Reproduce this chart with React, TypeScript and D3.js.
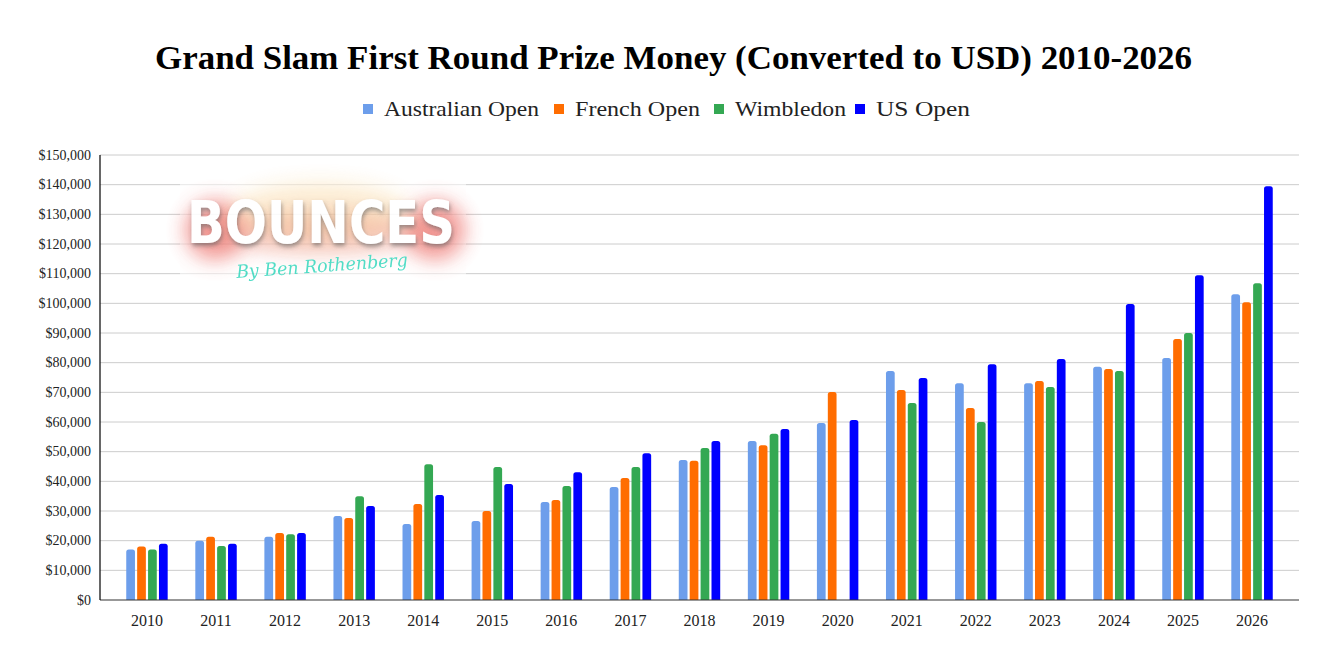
import React from "react";
import * as d3 from "d3";

const years = ["2010","2011","2012","2013","2014","2015","2016","2017","2018","2019","2020","2021","2022","2023","2024","2025","2026"];
const seriesNames = ["Australian Open", "French Open", "Wimbledon", "US Open"];
const seriesColors = ["#6d9eeb", "#ff6d01", "#34a853", "#0000ff"];
const australianOpen = [17000, 20000, 21300, 28300, 25600, 26600, 33000, 38100, 47200, 53600, 59700, 77200, 73100, 73100, 78600, 81600, 103100];
const frenchOpen = [18000, 21300, 22600, 27600, 32400, 30000, 33700, 41100, 46900, 52200, 70100, 70800, 64700, 73800, 77900, 88000, 100400];
const wimbledon = [17000, 18200, 22200, 35000, 45800, 44800, 38400, 44800, 51200, 56000, null, 66400, 60000, 71800, 77200, 90000, 106800];
const usOpen = [19000, 19000, 22600, 31700, 35400, 39100, 43100, 49500, 53600, 57600, 60700, 74800, 79500, 81200, 99800, 109500, 139500];
const yTicks = [0, 10000, 20000, 30000, 40000, 50000, 60000, 70000, 80000, 90000, 100000, 110000, 120000, 130000, 140000, 150000];

const W = 1333, H = 664;
const L = 100, R = 1299, T = 155, B = 600;

function topRounded(x: number, y: number, w: number, h: number, r: number) {
  const rr = Math.min(r, h, w / 2);
  return `M${x},${y + h}V${y + rr}Q${x},${y} ${x + rr},${y}H${x + w - rr}Q${x + w},${y} ${x + w},${y + rr}V${y + h}Z`;
}

export default function App() {
  const series = [australianOpen, frenchOpen, wimbledon, usOpen];
  const x = d3.scaleBand<string>().domain(years).range([L, R]).paddingInner(0.4).paddingOuter(0.38);
  const xi = d3.scaleBand<number>().domain([0, 1, 2, 3]).range([0, x.bandwidth()]).paddingInner(0.2);
  const y = d3.scaleLinear().domain([0, 150000]).range([B, T]);
  const fmt = (v: number) => "$" + d3.format(",")(v);
  const serif = "'Liberation Serif', 'DejaVu Serif', serif";

  const legendX = [363, 554, 714, 855];
  const legendW = [155, 125, 111, 94];

  return (
    <svg width={W} height={H} style={{ position: "absolute", left: 0, top: 0, background: "#fff" }}>
      <defs>
        <filter id="blur8" x="-50%" y="-50%" width="200%" height="200%">
          <feGaussianBlur stdDeviation="10" />
        </filter>
        <filter id="shadow" x="-10%" y="-20%" width="120%" height="150%">
          <feDropShadow dx="1" dy="3" stdDeviation="2" floodColor="#555" floodOpacity="0.6" />
        </filter>
      </defs>
      <rect x={0} y={0} width={W} height={H} fill="#fff" />
      <text x={155} y={69} fontFamily={serif} fontWeight="bold" fontSize={34} fill="#000"
        textLength={1037} lengthAdjust="spacingAndGlyphs">
        Grand Slam First Round Prize Money (Converted to USD) 2010-2026
      </text>
      {seriesNames.map((n, i) => (
        <g key={n}>
          <rect x={legendX[i]} y={104} width={10} height={10} fill={seriesColors[i]} />
          <text x={legendX[i] + 21} y={116} fontFamily={serif} fontSize={22} fill="#222"
            textLength={legendW[i]} lengthAdjust="spacingAndGlyphs">{n}</text>
        </g>
      ))}
      {yTicks.map((t) => (
        <g key={t}>
          {t > 0 && <line x1={L} x2={R} y1={y(t)} y2={y(t)} stroke="#cccccc" strokeWidth={1} />}
          <text x={91} y={y(t) + 4.5} textAnchor="end" fontFamily={serif} fontSize={14} fill="#222">{fmt(t)}</text>
        </g>
      ))}
      {/* watermark logo */}
      <g opacity={0.9}>
        <rect x={180} y={166} width={286} height={118} fill="#fff" opacity={0.6} />
        <ellipse cx={215} cy={230} rx={30} ry={30} fill="#e8473f" opacity={0.6} filter="url(#blur8)" />
        <ellipse cx={435} cy={230} rx={30} ry={30} fill="#e8473f" opacity={0.6} filter="url(#blur8)" />
        <ellipse cx={320} cy={232} rx={110} ry={22} fill="#e87a6a" opacity={0.45} filter="url(#blur8)" />
        <ellipse cx={320} cy={212} rx={90} ry={30} fill="#f6c36a" opacity={0.3} filter="url(#blur8)" />
        <text x={321} y={243} textAnchor="middle" fontFamily="'DejaVu Sans', Roboto, sans-serif" fontWeight="900"
          fontSize={58} fill="#fff" filter="url(#shadow)" textLength={268} lengthAdjust="spacingAndGlyphs">BOUNCES</text>
        <text x={322} y={272} textAnchor="middle" fontFamily="'DejaVu Serif', serif" fontStyle="italic"
          fontSize={18} fill="#3fd9c0" textLength={172} lengthAdjust="spacingAndGlyphs" transform="rotate(-4 322 266)">By Ben Rothenberg</text>
      </g>
      {years.map((yr, gi) => (
        <g key={yr}>
          {series.map((s, si) => {
            const v = s[gi];
            if (v == null) return null;
            const bx = (x(yr) as number) + (xi(si) as number);
            const by = y(v);
            return <path key={si} d={topRounded(bx, by, xi.bandwidth(), B - by, 2.5)} fill={seriesColors[si]} />;
          })}
          <text x={(x(yr) as number) + x.bandwidth() / 2} y={626} textAnchor="middle" fontFamily={serif} fontSize={16} fill="#222">{yr}</text>
        </g>
      ))}
      <line x1={L} x2={R} y1={B} y2={B} stroke="#333" strokeWidth={1.2} />
      <line x1={L} x2={L} y1={T} y2={B} stroke="#000" strokeWidth={1.2} />
    </svg>
  );
}
